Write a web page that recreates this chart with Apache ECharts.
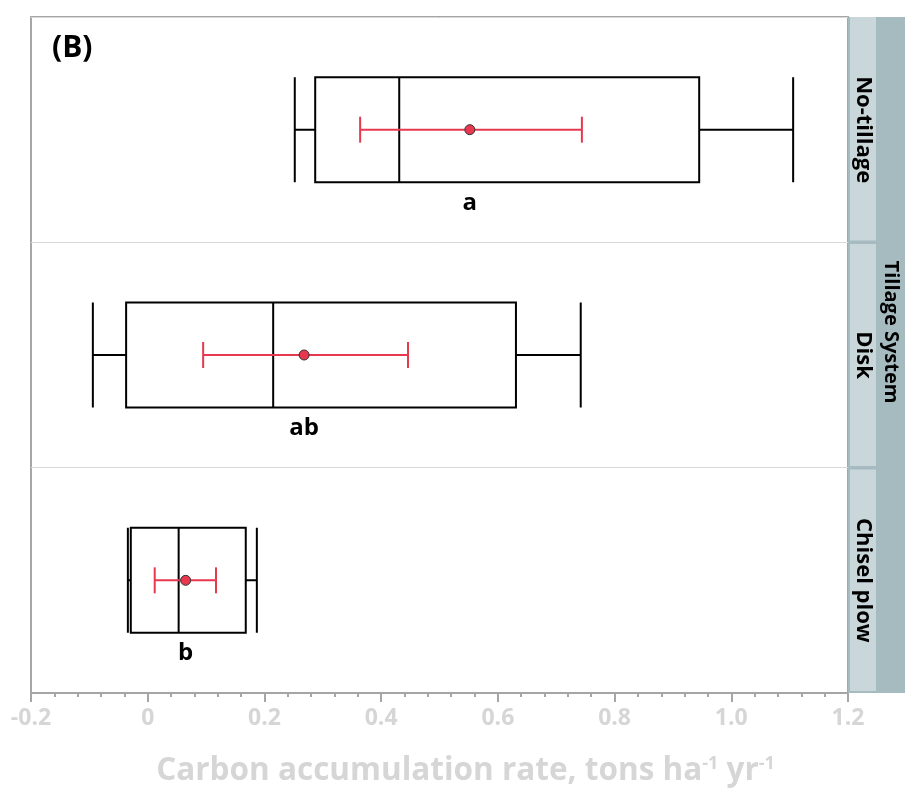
<!DOCTYPE html>
<html>
<head>
<meta charset="utf-8">
<script src="https://cdn.jsdelivr.net/npm/echarts@6/dist/echarts.min.js"></script>
<style>
html,body{margin:0;padding:0;background:#fff;}
#chart{width:906px;height:796px;}
</style>
</head>
<body>
<div id="chart"></div>
<script>
// Data
var categories = ['No-tillage', 'Disk', 'Chisel plow'];
var whiskerLow = [0.252, -0.094, -0.034];
var q1 = [0.287, -0.037, -0.029];
var median = [0.431, 0.215, 0.053];
var q3 = [0.945, 0.631, 0.168];
var whiskerHigh = [1.106, 0.742, 0.187];
var means = [0.552, 0.268, 0.065];
var ciLow = [0.364, 0.095, 0.012];
var ciHigh = [0.744, 0.446, 0.117];
var letters = ['a', 'ab', 'b'];
var xTicks = [-0.2, 0, 0.2, 0.4, 0.6, 0.8, 1.0, 1.2];
var panelTitle = '(B)';
var groupTitle = 'Tillage System';

var chart = echarts.init(document.getElementById('chart'));

var boxData = categories.map(function (c, i) {
  return [whiskerLow[i], q1[i], median[i], q3[i], whiskerHigh[i]];
});
var errData = categories.map(function (c, i) {
  return [ciLow[i], ciHigh[i], i];
});
var meanData = categories.map(function (c, i) { return [means[i], i]; });
var letterData = categories.map(function (c, i) { return [means[i], i, letters[i]]; });

var GL = 31, GT = 17, GR = 58, GB = 103;
var W = 906, H = 796;
var plotH = H - GT - GB;
var band = plotH / categories.length;
var stripX = W - GR;

var graphics = [];
graphics.push({type: 'rect', shape: {x: stripX, y: GT, width: GR - 1, height: plotH}, style: {fill: '#a6bbbf'}, z: 10});
categories.forEach(function (c, i) {
  var y0 = GT + i * band + (i > 0 ? 1.75 : 0);
  var y1 = GT + (i + 1) * band - (i < categories.length - 1 ? 1.75 : 2);
  graphics.push({type: 'rect', shape: {x: stripX + 2, y: y0, width: 26, height: y1 - y0}, style: {fill: '#c9d6da'}, z: 11});
  graphics.push({type: 'text', x: stripX + 15, y: GT + (i + 0.5) * band, rotation: -Math.PI / 2,
    style: {text: c, font: 'bold 22px "Open Sans", sans-serif', fill: '#000', textAlign: 'center', textVerticalAlign: 'middle'}, z: 12});
});
graphics.push({type: 'text', x: stripX + 43, y: 332, rotation: -Math.PI / 2,
  style: {text: groupTitle, font: 'bold 20px "Open Sans", sans-serif', fill: '#000', textAlign: 'center', textVerticalAlign: 'middle'}, z: 12});
graphics.push({type: 'text', left: 52, top: 33,
  style: {text: panelTitle, font: 'bold 30px "Open Sans", sans-serif', fill: '#000'}, z: 12});

var option = {
  animation: false,
  backgroundColor: '#fff',
  grid: {left: GL, right: GR, top: GT, bottom: GB, show: true, borderColor: '#a6a6a6', borderWidth: 2, containLabel: false},
  xAxis: {
    type: 'value', min: -0.2, max: 1.2, interval: 0.2,
    axisLine: {show: true, lineStyle: {color: '#a6a6a6', width: 2}},
    axisTick: {show: true, length: 9, lineStyle: {color: '#a6a6a6', width: 2}},
    minorTick: {show: true, splitNumber: 5, length: 4, lineStyle: {color: '#a6a6a6', width: 2}},
    splitLine: {show: false},
    axisLabel: {
      margin: 14, color: '#d6d6d6', fontSize: 23, fontWeight: 'bold',
      fontFamily: '"Open Sans", sans-serif',
      formatter: function (v) {
        var r = Math.round(v * 10) / 10;
        for (var k = 0; k < xTicks.length; k++) {
          if (Math.abs(xTicks[k] - r) < 1e-9) {
            if (r === 0) return '0';
            return r.toFixed(1);
          }
        }
        return '';
      }
    },
    name: 'Carbon accumulation rate, tons ha{sup|-1} yr{sup|-1}',
    nameLocation: 'middle', nameGap: 62,
    nameTextStyle: {
      color: '#d6d6d6', fontSize: 31.5, fontWeight: 'bold',
      fontFamily: '"Open Sans", sans-serif',
      padding: [0, 0, 0, 52],
      rich: {sup: {fontSize: 18, fontWeight: 'bold', color: '#d6d6d6', verticalAlign: 'top', padding: [0, 0, 14, 0],
        fontFamily: '"Open Sans", sans-serif'}}
    }
  },
  yAxis: {
    type: 'category', data: categories, inverse: true,
    axisLine: {show: false}, axisTick: {show: false}, axisLabel: {show: false},
    splitLine: {show: true, lineStyle: {color: '#d9d9d9', width: 1}}
  },
  graphic: graphics,
  series: [
    {
      type: 'boxplot', data: boxData, boxWidth: [105, 105],
      itemStyle: {color: '#fff', borderColor: '#000', borderWidth: 2},
      emphasis: {disabled: true}, z: 2
    },
    {
      type: 'custom', data: errData, z: 3,
      renderItem: function (params, api) {
        var lo = api.coord([api.value(0), api.value(2)]);
        var hi = api.coord([api.value(1), api.value(2)]);
        var y = lo[1];
        var cap = 13;
        var st = {stroke: '#e8384f', lineWidth: 2};
        return {type: 'group', children: [
          {type: 'line', shape: {x1: lo[0], y1: y, x2: hi[0], y2: y}, style: st},
          {type: 'line', shape: {x1: lo[0], y1: y - cap, x2: lo[0], y2: y + cap}, style: st},
          {type: 'line', shape: {x1: hi[0], y1: y - cap, x2: hi[0], y2: y + cap}, style: st}
        ]};
      }
    },
    {
      type: 'scatter', data: meanData, symbol: 'circle', symbolSize: 10, z: 4,
      itemStyle: {color: '#e8384f', borderColor: '#333', borderWidth: 1, opacity: 1},
      emphasis: {disabled: true}
    },
    {
      type: 'custom', data: letterData, z: 5,
      renderItem: function (params, api) {
        var p = api.coord([api.value(0), api.value(1)]);
        return {type: 'text', x: p[0], y: p[1] + 61,
          style: {text: letters[params.dataIndex], font: 'bold 24px "Open Sans", sans-serif', fill: '#000', textAlign: 'center', textVerticalAlign: 'top'}};
      }
    }
  ]
};
chart.setOption(option);
</script>
</body>
</html>
